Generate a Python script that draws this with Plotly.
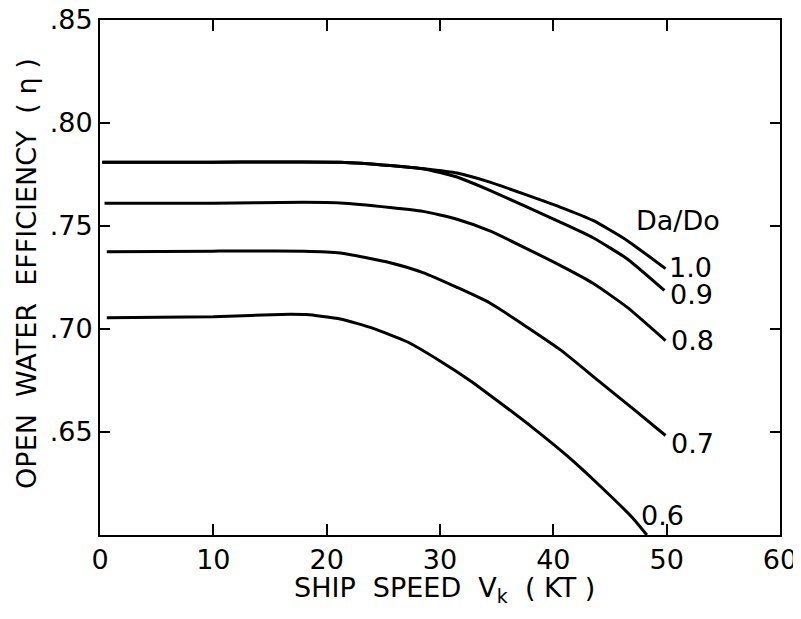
import plotly.graph_objects as go

# Data
x_10 = [0.2, 10, 21.2, 25.6, 28.5, 31.5, 34.4, 40.6, 43.5, 46.5, 49.9]
y_10 = [0.781, 0.781, 0.781, 0.7794, 0.7778, 0.7757, 0.7713, 0.7592, 0.7527, 0.743, 0.7293]

x_09 = [0.2, 10, 21.2, 25.6, 28.5, 31.5, 34.4, 40.6, 43.5, 46.5, 49.8]
y_09 = [0.781, 0.781, 0.781, 0.7794, 0.7778, 0.7738, 0.7673, 0.7519, 0.7443, 0.7341, 0.7187]

x_08 = [0.4, 10, 18, 21.2, 25.6, 28.5, 31.5, 34.4, 40.6, 43.5, 46.5, 49.9]
y_08 = [0.761, 0.761, 0.7615, 0.7612, 0.7590, 0.7571, 0.7533, 0.7476, 0.7309, 0.7222, 0.7106, 0.6944]

x_07 = [0.6, 10, 18, 21.2, 25.6, 28.5, 31.5, 34.4, 40.6, 44.1, 47.1, 49.9]
y_07 = [0.7375, 0.7378, 0.7378, 0.7369, 0.7322, 0.7274, 0.7202, 0.7126, 0.6900, 0.6743, 0.6610, 0.6483]

x_06 = [0.6, 10, 16.8, 18.2, 21.2, 24.1, 27.1, 30.0, 32.7, 35.3, 38.2, 41.2, 44.1, 47.1, 48.25]
y_06 = [0.7055, 0.706, 0.7072, 0.7070, 0.7049, 0.7003, 0.6938, 0.6845, 0.6748, 0.6642, 0.6520, 0.6385, 0.6239, 0.6077, 0.600]

series = [("1.0", x_10, y_10), ("0.9", x_09, y_09), ("0.8", x_08, y_08),
          ("0.7", x_07, y_07), ("0.6", x_06, y_06)]

label_text = ["1.0", "0.9", "0.8", "0.7", "0.6"]
label_x = [52.1, 52.2, 52.3, 52.3, 49.6]
label_y = [0.7300, 0.7167, 0.6944, 0.6446, 0.6093]

x_ticks = [0, 10, 20, 30, 40, 50, 60]
y_ticks = [0.65, 0.70, 0.75, 0.80, 0.85]
y_tick_text = [".65", ".70", ".75", ".80", ".85"]

FONT = "DejaVu Sans"
FS = 27

fig = go.Figure()
for name, xs, ys in series:
    fig.add_trace(go.Scatter(x=xs, y=ys, mode="lines", name=name,
                             line=dict(color="black", width=3, shape="spline", smoothing=0.5),
                             showlegend=False, hoverinfo="skip"))

for t, lx, ly in zip(label_text, label_x, label_y):
    fig.add_annotation(x=lx, y=ly, text=t, showarrow=False,
                       font=dict(family=FONT, size=FS, color="black"))

fig.add_annotation(x=51.0, y=0.7527, text="Da/Do", showarrow=False,
                   font=dict(family=FONT, size=FS, color="black"))

# axis titles
fig.add_annotation(xref="paper", yref="paper", x=0.507, y=0, yshift=-54,
                   xanchor="center", yanchor="middle", showarrow=False,
                   text="SHIP  SPEED  V<sub>k</sub>  ( KT )",
                   font=dict(family=FONT, size=27, color="black"))
fig.add_annotation(xref="paper", yref="paper", x=0, xshift=-73, y=0.507,
                   xanchor="center", yanchor="middle", showarrow=False, textangle=-90,
                   text="OPEN  WATER  EFFICIENCY  ( η )",
                   font=dict(family=FONT, size=27, color="black"))

# page body adds an 8px offset, so the figure is sized to fit the window
fig.update_layout(
    width=793, height=611,
    margin=dict(l=92, r=21, t=12, b=84, autoexpand=False),
    paper_bgcolor="white", plot_bgcolor="white",
    font=dict(family=FONT, size=FS, color="black"),
)
fig.update_xaxes(range=[0, 60], tickvals=x_ticks, ticks="inside", ticklen=11,
                 tickwidth=1.5, tickcolor="black", showline=True, linecolor="black",
                 linewidth=2, mirror="ticks", showgrid=False, zeroline=False,
                 automargin=False, ticklabelstandoff=0, ticklabeloverflow="allow",
                 tickfont=dict(family=FONT, size=FS))
fig.update_yaxes(range=[0.6, 0.85], tickvals=y_ticks, ticktext=y_tick_text, ticks="inside",
                 ticklen=10, tickwidth=1.5, tickcolor="black", showline=True, linecolor="black",
                 linewidth=2, mirror="ticks", showgrid=False, zeroline=False,
                 automargin=False, ticklabeloverflow="allow",
                 tickfont=dict(family=FONT, size=FS))

fig.write_html("out.html")
